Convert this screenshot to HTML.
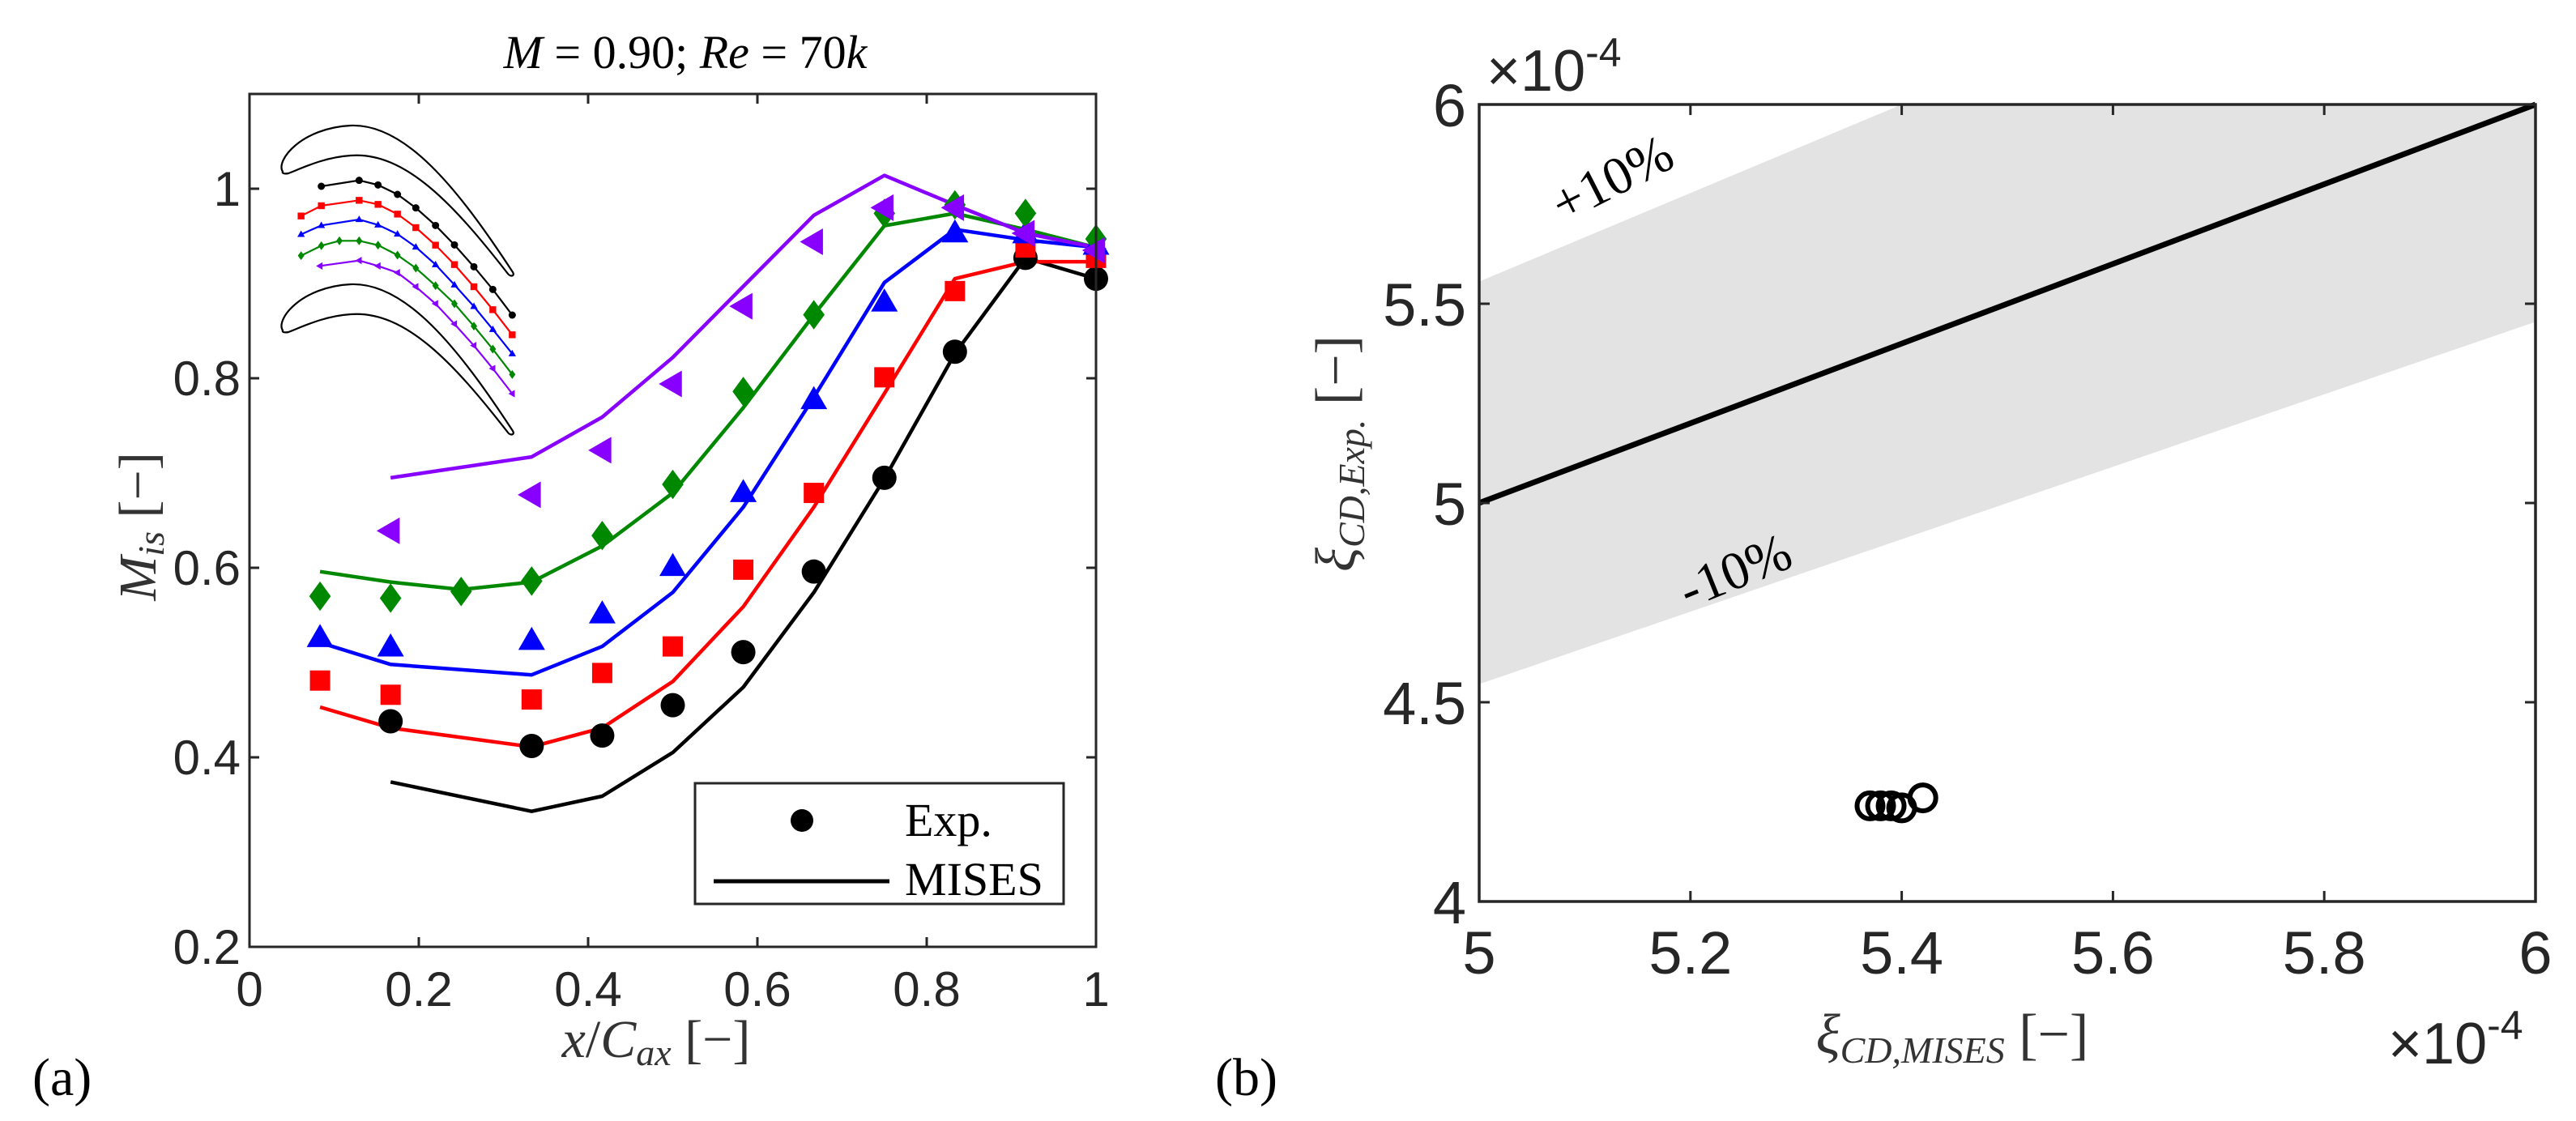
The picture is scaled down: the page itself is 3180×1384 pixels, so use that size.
<!DOCTYPE html>
<html><head><meta charset="utf-8"><style>
html,body{margin:0;padding:0;background:#fff;}
svg{display:block;}
text{font-family:"Liberation Sans",sans-serif;fill:#262626;}
.serif{font-family:"Liberation Serif",serif;fill:#000;}
</style></head><body>
<svg id="fig" width="3180" height="1384" viewBox="0 0 3180 1384" xmlns="http://www.w3.org/2000/svg">
<g id="left"></g>
<g id="right"></g>
</svg>
<script>
// ---------- Left chart data ----------
const xCat = [1/12, 2/12, 3/12, 4/12, 5/12, 6/12, 7/12, 8/12, 9/12, 10/12, 11/12, 1];
const blackExpX = [2/12,4/12,5/12,6/12,7/12,8/12,9/12,10/12,11/12,1];
const blackExp = [0.438,0.412,0.423,0.455,0.511,0.596,0.695,0.828,0.927,0.905];
const blackMisX = [2/12,4/12,5/12,6/12,7/12,8/12,9/12,10/12,11/12,1];
const blackMis = [0.374,0.343,0.359,0.405,0.474,0.574,0.694,0.826,0.927,0.905];
const redX = [1/12,2/12,4/12,5/12,6/12,7/12,8/12,9/12,10/12,11/12,1];
const redExp = [0.481,0.466,0.461,0.489,0.517,0.598,0.679,0.801,0.892,0.938,0.927];
const redMis = [0.453,0.431,0.411,0.431,0.480,0.559,0.664,0.784,0.905,0.923,0.923];
const blueX = [1/12,2/12,4/12,5/12,6/12,7/12,8/12,9/12,10/12,11/12,1];
const blueExp = [0.526,0.516,0.523,0.551,0.601,0.679,0.777,0.880,0.953,0.952,0.940];
const blueMis = [0.521,0.498,0.487,0.517,0.574,0.664,0.780,0.901,0.957,0.946,0.938];
const greenX = [1/12,2/12,3/12,4/12,5/12,6/12,7/12,8/12,9/12,10/12,11/12,1];
const greenExp = [0.570,0.568,0.575,0.586,0.634,0.688,0.786,0.867,0.974,0.983,0.974,0.947];
const greenMis = [0.596,0.585,0.577,0.585,0.623,0.679,0.769,0.867,0.961,0.974,0.957,0.938];
const purpleX = [2/12,4/12,5/12,6/12,7/12,8/12,9/12,10/12,11/12,1];
const purpleExp = [0.639,0.677,0.724,0.794,0.876,0.944,0.980,0.980,0.953,0.935];
const purpleMis = [0.695,0.717,0.759,0.822,0.897,0.972,1.014,0.983,0.953,0.938];
const leftXTicks = [0,0.2,0.4,0.6,0.8,1];
const leftXTickLabels = ["0","0.2","0.4","0.6","0.8","1"];
const leftYTicks = [0.2,0.4,0.6,0.8,1];
const leftYTickLabels = ["0.2","0.4","0.6","0.8","1"];

// ---------- Right chart data ----------
const misesCD = [5.37,5.38,5.39,5.40,5.42];
const expCD = [4.24,4.24,4.24,4.235,4.26];
const rightXTicks = [5,5.2,5.4,5.6,5.8,6];
const rightXTickLabels = ["5","5.2","5.4","5.6","5.8","6"];
const rightYTicks = [4,4.5,5,5.5,6];
const rightYTickLabels = ["4","4.5","5","5.5","6"];
const bandUpperFactor = 1/0.9;
const bandLowerFactor = 1/1.1;

const NS = "http://www.w3.org/2000/svg";
function mk(parent, tag, attrs, txt){
  const e = document.createElementNS(NS, tag);
  for (const k in attrs) e.setAttribute(k, attrs[k]);
  if (txt !== undefined) e.textContent = txt;
  parent.appendChild(e);
  return e;
}

// ===== LEFT =====
const L = document.getElementById('left');
const lx0=308, lx1=1353, ly0=1169, ly1=116;
const lX = v => lx0 + (v-0)*(lx1-lx0);
const lY = v => ly0 - (v-0.2)/(0.9)*(ly0-ly1);

const blade = "M349,212 C340,198 372,158 433,155 C500,152 565,232 633,336 C636,341 630,342 627,338 C560,252 500,187 433,192 C400,194 372,208 356,214 C351,215 348,214 349,212 Z";
let b1 = mk(L,'path',{d:blade,fill:'none',stroke:'#000','stroke-width':2.2});


let b2 = mk(L,'path',{d:blade,fill:'none',stroke:'#000','stroke-width':2.2,transform:'translate(0,196)'});



const insetBlack = [[590,540],[730,518],[800,535],[872,570],[940,620],[1013,685],[1083,757],[1155,838],[1225,922],[1297,1017]];
const insetRed = [[515,650],[590,612],[730,592],[800,607],[872,643],[940,693],[1013,758],[1083,830],[1155,912],[1225,997],[1297,1090]];
const insetBlue = [[515,718],[590,685],[730,663],[800,683],[872,717],[940,765],[1013,830],[1083,905],[1155,985],[1225,1070],[1297,1160]];
const insetGreen = [[515,797],[590,760],[657,742],[730,742],[800,758],[872,795],[940,843],[1013,908],[1083,975],[1155,1058],[1225,1143],[1297,1237]];
const insetPurple = [[585,835],[730,815],[800,835],[872,860],[940,912],[1013,975],[1083,1050],[1155,1130],[1225,1215],[1297,1308]];
function marker(g, kind, x, y, s, color){
  let e;
  if(kind==='circle') e=mk(g,'circle',{cx:x,cy:y,r:s,fill:color});
  else if(kind==='square') e=mk(g,'rect',{x:x-s,y:y-s,width:2*s,height:2*s,fill:color});
  else if(kind==='tri') e=mk(g,'polygon',{points:`${x},${y-s*1.15} ${x-s*1.1},${y+s*0.75} ${x+s*1.1},${y+s*0.75}`,fill:color});
  else if(kind==='diamond') e=mk(g,'polygon',{points:`${x},${y-s*1.3} ${x+s*0.95},${y} ${x},${y+s*1.3} ${x-s*0.95},${y}`,fill:color});
  else if(kind==='ltri') e=mk(g,'polygon',{points:`${x-s*1.15},${y} ${x+s*0.75},${y-s*1.1} ${x+s*0.75},${y+s*1.1}`,fill:color});
  return e;
}
const insetDefs = [[insetBlack,'#000','circle'],[insetRed,'#f00','square'],[insetBlue,'#00f','tri'],[insetGreen,'#080','diamond'],[insetPurple,'#80f','ltri']];
insetDefs.forEach((d,i)=>{
  const g = mk(L,'g',{});
  
  
  const pts = d[0].map(p=>[200+p[0]/3, 50+p[1]/3]);
  mk(g,'polyline',{points:pts.map(p=>p.join(',')).join(' '),fill:'none',stroke:d[1],'stroke-width':2.2});
  pts.forEach(p=>{ marker(g,d[2],p[0],p[1],d[2]==='circle'?4.5:4.2,d[1]); });
});

const series = [
  ['black', '#000', 'circle', 15, blackExpX, blackExp, blackMisX, blackMis],
  ['red', '#f00', 'square', 12.5, redX, redExp, redX, redMis],
  ['blue', '#00f', 'tri', 15, blueX, blueExp, blueX, blueMis],
  ['green', '#080', 'diamond', 14, greenX, greenExp, greenX, greenMis],
  ['purple', '#80f', 'ltri', 15, purpleX, purpleExp, purpleX, purpleMis]
];
series.forEach(s=>{
  const g = mk(L,'g',{});
  
  
  const pts = s[6].map((x,i)=>lX(x).toFixed(1)+','+lY(s[7][i]).toFixed(1)).join(' ');
  mk(g,'polyline',{points:pts,fill:'none',stroke:s[1],'stroke-width':4.5,'stroke-linejoin':'round'});
});
series.forEach(s=>{
  const g = mk(L,'g',{});
  
  
  s[4].forEach((x,i)=>{
    const m = marker(g, s[2], lX(x), lY(s[5][i]), s[3], s[1]);
    
    
  });
});

const lax = mk(L,'g',{});


mk(lax,'rect',{x:lx0,y:ly1,width:lx1-lx0,height:ly0-ly1,fill:'none',stroke:'#262626','stroke-width':3});
leftXTicks.forEach((v,i)=>{
  const x=lX(v);
  mk(lax,'line',{x1:x,y1:ly0,x2:x,y2:ly0-12,stroke:'#262626','stroke-width':3});
  mk(lax,'line',{x1:x,y1:ly1,x2:x,y2:ly1+12,stroke:'#262626','stroke-width':3});
  const t=mk(lax,'text',{x:x,y:1242,'font-size':60,'text-anchor':'middle'},leftXTickLabels[i]);
  
  
});
leftYTicks.forEach((v,i)=>{
  const y=lY(v);
  mk(lax,'line',{x1:lx0,y1:y,x2:lx0+12,y2:y,stroke:'#262626','stroke-width':3});
  mk(lax,'line',{x1:lx1,y1:y,x2:lx1-12,y2:y,stroke:'#262626','stroke-width':3});
  const t=mk(lax,'text',{x:297,y:y+21,'font-size':60,'text-anchor':'end'},leftYTickLabels[i]);
  
  
});
</script>
<script>
(function(){
const L=document.getElementById('left');
L.insertAdjacentHTML('beforeend',`
<text class="serif" x="846" y="84" font-size="58" text-anchor="middle"><tspan font-style="italic">M</tspan> = 0.90; <tspan font-style="italic">Re</tspan> = 70<tspan font-style="italic">k</tspan></text>
<text class="serif" x="810" y="1305" font-size="66" text-anchor="middle" style="fill:#333"><tspan font-style="italic">x</tspan>/<tspan font-style="italic">C</tspan><tspan font-style="italic" font-size="46" dy="10">ax</tspan><tspan dy="-10"> [−]</tspan></text>
<text class="serif" x="0" y="0" font-size="66" text-anchor="middle" transform="translate(192,650) rotate(-90)" style="fill:#333"><tspan font-style="italic">M</tspan><tspan font-style="italic" font-size="46" dy="10">is</tspan><tspan dy="-10"> [−]</tspan></text>
<g>
<rect x="858" y="967" width="455" height="149" fill="#fff" stroke="#262626" stroke-width="3"/>
<circle cx="990" cy="1013" r="14" fill="#000"/>
<text class="serif" x="1117" y="1032" font-size="58">Exp.</text>
<line x1="881" y1="1088" x2="1098" y2="1088" stroke="#000" stroke-width="5"/>
<text class="serif" x="1117" y="1105" font-size="58">MISES</text>
</g>
<text class="serif" x="40" y="1352" font-size="66">(a)</text>
`);
})();
</script>
<script>
(function(){
const R = document.getElementById('right');
const rx0=1826, rx1=3130, ry0=1113, ry1=129;
const rX = v => rx0 + (v-5)/(1)*(rx1-rx0);
const rY = v => ry0 - (v-4)/(2)*(ry0-ry1);
const xa=5, xb=6;
const band = mk(R,'polygon',{points:[
  [rX(xa), rY(Math.min(6,xa*bandUpperFactor))],
  [rX(6*0.9), rY(6)],
  [rX(xb), rY(6)],
  [rX(xb), rY(xb*bandLowerFactor)],
  [rX(xa), rY(xa*bandLowerFactor)]
].map(p=>p.join(',')).join(' '), fill:'#e3e3e3'});


const diag = mk(R,'line',{x1:rX(5),y1:rY(5),x2:rX(6),y2:rY(6),stroke:'#000','stroke-width':7});


const pg = mk(R,'g',{});


misesCD.forEach((v,i)=>{
  const c = mk(pg,'circle',{cx:rX(v),cy:rY(expCD[i]),r:16,fill:'none',stroke:'#000','stroke-width':6});
  
  
});
const ax = mk(R,'g',{});


mk(ax,'rect',{x:rx0,y:ry1,width:rx1-rx0,height:ry0-ry1,fill:'none',stroke:'#262626','stroke-width':3.5});
rightXTicks.forEach((v,i)=>{
  const x=rX(v);
  mk(ax,'line',{x1:x,y1:ry0,x2:x,y2:ry0-13,stroke:'#262626','stroke-width':3});
  mk(ax,'line',{x1:x,y1:ry1,x2:x,y2:ry1+13,stroke:'#262626','stroke-width':3});
  const t=mk(ax,'text',{x:x,y:1202,'font-size':74,'text-anchor':'middle'},rightXTickLabels[i]);
  
  
});
rightYTicks.forEach((v,i)=>{
  const y=rY(v);
  mk(ax,'line',{x1:rx0,y1:y,x2:rx0+13,y2:y,stroke:'#262626','stroke-width':3});
  mk(ax,'line',{x1:rx1,y1:y,x2:rx1-13,y2:y,stroke:'#262626','stroke-width':3});
  const t=mk(ax,'text',{x:1810,y:y+27,'font-size':74,'text-anchor':'end'},rightYTickLabels[i]);
  
  
});
R.insertAdjacentHTML('beforeend',`
<text x="1835" y="112" font-size="72">×10<tspan font-size="50" dy="-30">-4</tspan></text>
<text x="2948" y="1313" font-size="72">×10<tspan font-size="50" dy="-30">-4</tspan></text>
<text class="serif" x="0" y="0" font-size="66" text-anchor="middle" transform="translate(2000,240) rotate(-27)">+10%</text>
<text class="serif" x="0" y="0" font-size="66" text-anchor="middle" transform="translate(2150,725) rotate(-22)">-10%</text>
<text class="serif" x="2410" y="1300" font-size="70" text-anchor="middle" style="fill:#333"><tspan font-style="italic">ξ</tspan><tspan font-style="italic" font-size="46" dy="12">CD,MISES</tspan><tspan dy="-12"> [−]</tspan></text>
<text class="serif" x="0" y="0" font-size="70" text-anchor="middle" transform="translate(1672,560) rotate(-90)" style="fill:#333"><tspan font-style="italic">ξ</tspan><tspan font-style="italic" font-size="46" dy="12">CD,Exp.</tspan><tspan dy="-12"> [−]</tspan></text>
<text class="serif" x="1500" y="1352" font-size="66">(b)</text>
`);
})();
</script>
</body></html>
